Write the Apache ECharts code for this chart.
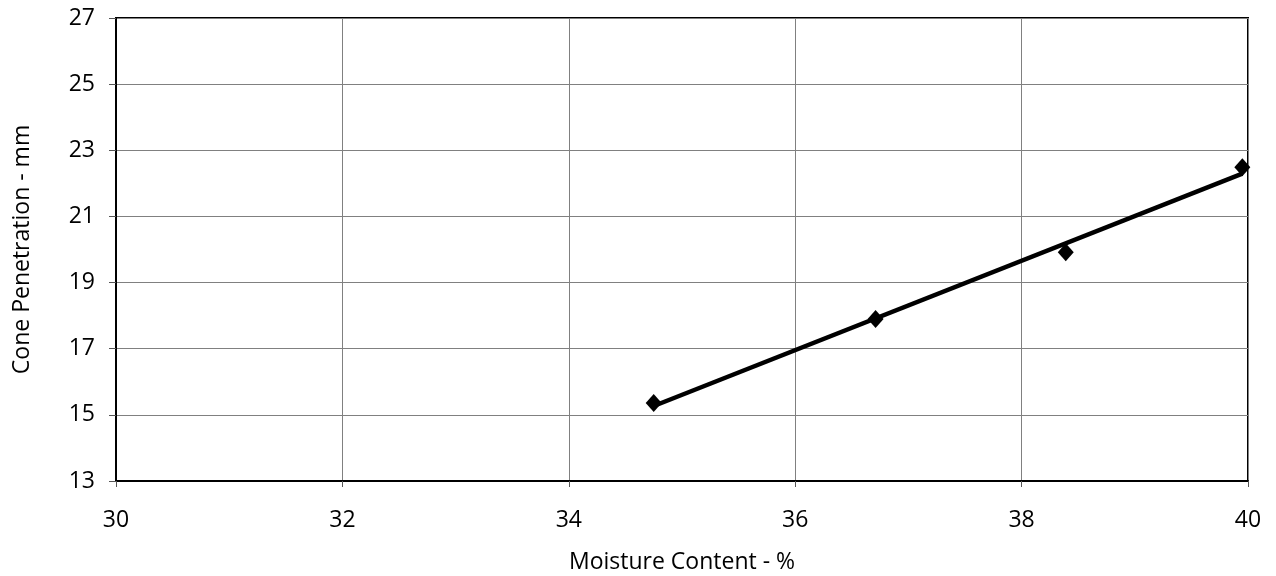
<!DOCTYPE html>
<html>
<head>
<meta charset="utf-8">
<script src="https://cdn.jsdelivr.net/npm/echarts@6/dist/echarts.min.js"></script>
<style>
  html, body { margin: 0; padding: 0; background: #fff; }
  #chart { width: 1276px; height: 576px; }
</style>
</head>
<body>
<div id="chart"></div>
<script>
// Cone penetration test results
const moisture = [34.75, 36.71, 38.39, 39.95];     // %
const penetration = [15.36, 17.90, 19.92, 22.49];  // mm
const xTicks = [30, 32, 34, 36, 38, 40];
const yTicks = [13, 15, 17, 19, 21, 23, 25, 27];

// Least-squares straight line through the readings
function linearFit(xs, ys) {
  const n = xs.length;
  const mx = xs.reduce((a, b) => a + b, 0) / n;
  const my = ys.reduce((a, b) => a + b, 0) / n;
  let sxy = 0, sxx = 0;
  for (let i = 0; i < n; i++) {
    sxy += (xs[i] - mx) * (ys[i] - my);
    sxx += (xs[i] - mx) * (xs[i] - mx);
  }
  const slope = sxy / sxx;
  return { slope, intercept: my - slope * mx };
}
const fit = linearFit(moisture, penetration);
const xMin = Math.min(...moisture), xMax = Math.max(...moisture);
const trend = [xMin, xMax].map(x => [x, fit.intercept + fit.slope * x]);

const font = 'Open Sans';
const fs = 23;
const chart = echarts.init(document.getElementById('chart'));
chart.setOption({
  animation: false,
  grid: {
    left: 116, right: 28, top: 18, bottom: 95,
    outerBoundsMode: 'none',
    containLabel: false,
    show: true, borderColor: '#000', borderWidth: 2
  },
  xAxis: {
    type: 'value',
    min: xTicks[0], max: xTicks[xTicks.length - 1], interval: 2,
    name: 'Moisture Content - %',
    nameLocation: 'middle', nameGap: 70,
    nameTextStyle: { fontFamily: font, fontSize: fs, color: '#000' },
    axisLine: { show: true, lineStyle: { color: '#000', width: 2 } },
    axisTick: { show: true, length: 6, lineStyle: { color: '#555', width: 1 } },
    axisLabel: { fontFamily: font, fontSize: fs, color: '#000', margin: 28 },
    splitLine: { show: true, lineStyle: { color: '#808080', width: 1 } }
  },
  yAxis: {
    type: 'value',
    min: yTicks[0], max: yTicks[yTicks.length - 1], interval: 2,
    name: 'Cone Penetration - mm',
    nameLocation: 'middle', nameGap: 82,
    nameTextStyle: { fontFamily: font, fontSize: fs, color: '#000' },
    axisLine: { show: true, lineStyle: { color: '#000', width: 2 } },
    axisTick: { show: true, length: 7, lineStyle: { color: '#555', width: 1 } },
    axisLabel: { fontFamily: font, fontSize: fs, color: '#000', margin: 21 },
    splitLine: { show: true, lineStyle: { color: '#808080', width: 1 } }
  },
  series: [
    {
      type: 'line',
      data: trend,
      showSymbol: false,
      lineStyle: { color: '#000', width: 4.5 },
      z: 2
    },
    {
      type: 'scatter',
      data: moisture.map((x, i) => [x, penetration[i]]),
      symbol: 'diamond',
      symbolSize: [16, 18],
      itemStyle: { color: '#000', opacity: 1 },
      z: 3
    }
  ]
});
</script>
</body>
</html>
